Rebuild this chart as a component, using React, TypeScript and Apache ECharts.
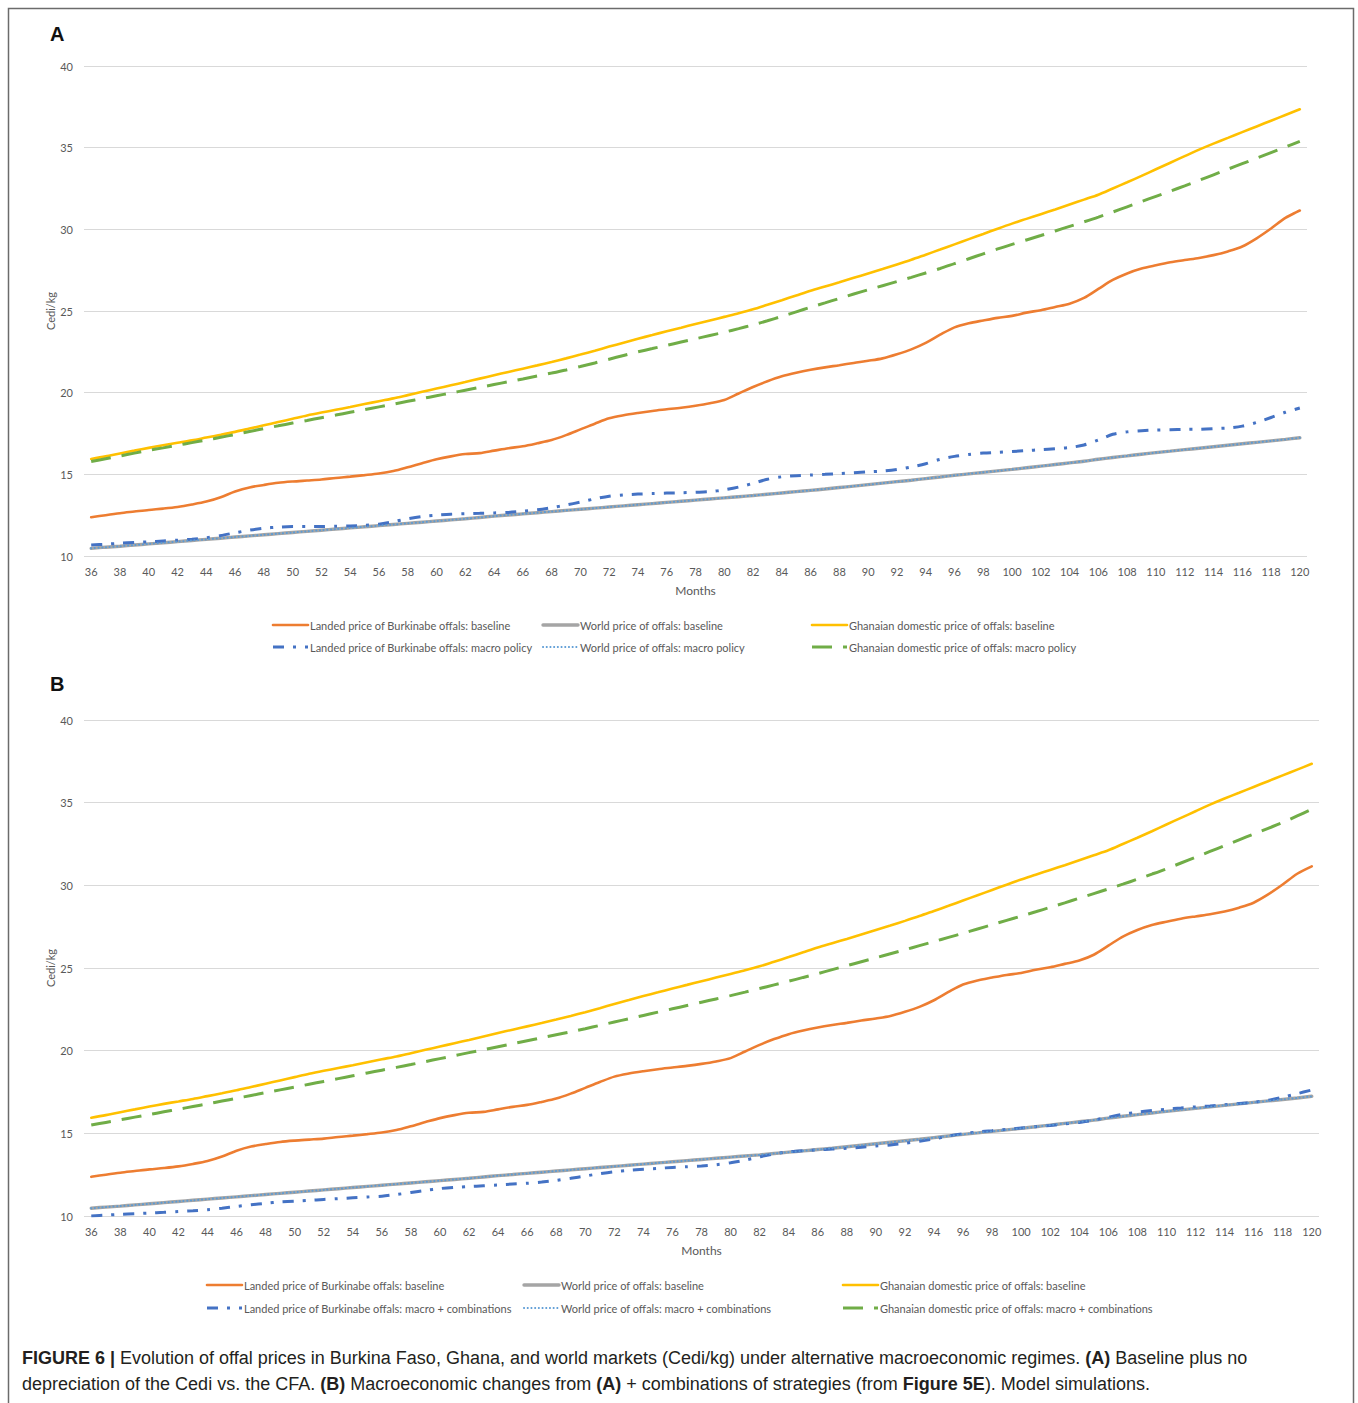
import React, { useEffect, useRef } from "react";
import * as echarts from "echarts";

const months = [
  "36","37","38","39","40","41","42","43","44","45","46","47","48","49","50","51","52","53","54","55",
  "56","57","58","59","60","61","62","63","64","65","66","67","68","69","70","71","72","73","74","75",
  "76","77","78","79","80","81","82","83","84","85","86","87","88","89","90","91","92","93","94","95",
  "96","97","98","99","100","101","102","103","104","105","106","107","108","109","110","111","112","113","114","115",
  "116","117","118","119","120",
];

const landedBaseline = [
  12.37,12.5,12.62,12.72,12.82,12.9,13.0,13.15,13.33,13.6,13.95,14.2,14.35,14.48,14.56,14.62,14.68,14.78,14.86,14.95,
  15.05,15.2,15.43,15.68,15.92,16.1,16.24,16.3,16.45,16.6,16.72,16.9,17.1,17.4,17.75,18.1,18.43,18.62,18.76,18.88,
  18.98,19.08,19.2,19.35,19.55,19.95,20.35,20.7,21.0,21.22,21.4,21.55,21.68,21.82,21.95,22.1,22.35,22.65,23.05,23.55,
  24.0,24.25,24.42,24.58,24.7,24.9,25.05,25.25,25.45,25.8,26.35,26.9,27.3,27.6,27.8,27.98,28.12,28.25,28.42,28.65,
  28.95,29.45,30.05,30.7,31.15,
];

const worldBaseline = [
  10.47,10.54,10.6,10.67,10.74,10.81,10.88,10.95,11.02,11.09,11.16,11.23,11.3,11.37,11.44,11.51,11.58,11.65,11.72,11.79,
  11.86,11.93,12.0,12.07,12.14,12.21,12.28,12.36,12.44,12.51,12.58,12.65,12.72,12.79,12.86,12.93,13.0,13.07,13.14,13.21,
  13.28,13.35,13.42,13.49,13.56,13.63,13.7,13.78,13.86,13.94,14.02,14.1,14.19,14.28,14.37,14.46,14.55,14.64,14.74,14.84,
  14.94,15.03,15.12,15.21,15.3,15.4,15.5,15.6,15.7,15.8,15.92,16.03,16.13,16.23,16.33,16.42,16.51,16.6,16.69,16.78,
  16.87,16.96,17.05,17.14,17.24,
];

const ghanaBaseline = [
  15.94,16.1,16.28,16.45,16.62,16.78,16.93,17.08,17.25,17.42,17.6,17.8,18.0,18.2,18.4,18.6,18.78,18.95,19.12,19.3,
  19.48,19.65,19.85,20.05,20.25,20.45,20.65,20.86,21.07,21.27,21.47,21.67,21.88,22.1,22.33,22.57,22.82,23.06,23.3,23.53,
  23.76,23.98,24.2,24.42,24.64,24.86,25.1,25.38,25.66,25.95,26.24,26.5,26.76,27.03,27.3,27.57,27.85,28.14,28.45,28.76,
  29.08,29.4,29.72,30.04,30.35,30.64,30.93,31.22,31.52,31.82,32.12,32.5,32.88,33.27,33.68,34.08,34.48,34.88,35.25,35.6,
  35.95,36.3,36.65,37.0,37.35,
];

// Panel A: macro policy
const landedMacroA = [
  10.67,10.72,10.78,10.83,10.87,10.92,10.97,11.03,11.12,11.25,11.42,11.58,11.7,11.77,11.8,11.8,11.8,11.82,11.84,11.88,
  11.95,12.1,12.28,12.42,12.5,12.56,12.59,12.61,12.64,12.67,12.74,12.83,12.96,13.12,13.3,13.5,13.66,13.74,13.79,13.82,
  13.85,13.87,13.9,13.94,14.05,14.22,14.45,14.7,14.85,14.92,14.96,15.0,15.05,15.1,15.15,15.2,15.3,15.45,15.65,15.92,
  16.1,16.22,16.3,16.35,16.4,16.45,16.51,16.57,16.64,16.8,17.1,17.45,17.6,17.67,17.71,17.73,17.75,17.76,17.8,17.84,
  17.95,18.18,18.48,18.8,19.06,
];
const worldMacroA = worldBaseline.slice();
const ghanaMacroA = [
  15.78,15.95,16.12,16.3,16.47,16.62,16.78,16.94,17.1,17.27,17.44,17.62,17.8,17.97,18.14,18.3,18.47,18.63,18.8,18.96,
  19.13,19.3,19.47,19.64,19.81,19.98,20.15,20.32,20.5,20.67,20.84,21.02,21.2,21.39,21.6,21.82,22.05,22.28,22.5,22.7,
  22.9,23.1,23.3,23.5,23.7,23.92,24.15,24.4,24.67,24.95,25.23,25.5,25.77,26.04,26.3,26.55,26.8,27.06,27.33,27.6,
  27.9,28.2,28.5,28.8,29.08,29.35,29.62,29.9,30.18,30.46,30.75,31.06,31.38,31.7,32.02,32.34,32.66,33.0,33.34,33.68,
  34.02,34.36,34.7,35.04,35.38,
];

// Panel B: macro + combinations
const landedComboB = [
  10.0,10.05,10.1,10.14,10.18,10.22,10.27,10.32,10.38,10.47,10.58,10.68,10.77,10.85,10.9,10.95,11.0,11.05,11.1,11.15,
  11.2,11.3,11.42,11.55,11.66,11.73,11.78,11.83,11.88,11.93,11.98,12.05,12.15,12.28,12.42,12.56,12.68,12.76,12.83,12.88,
  12.94,12.98,13.03,13.1,13.22,13.38,13.58,13.76,13.88,13.95,14.0,14.05,14.1,14.16,14.23,14.3,14.4,14.52,14.66,14.84,
  14.98,15.08,15.16,15.24,15.32,15.4,15.48,15.57,15.66,15.8,15.98,16.15,16.28,16.38,16.46,16.53,16.6,16.66,16.73,16.8,
  16.88,17.0,17.18,17.4,17.62,
];
const worldComboB = worldBaseline.slice();
const ghanaComboB = [
  15.5,15.66,15.82,15.98,16.14,16.3,16.46,16.62,16.78,16.95,17.12,17.29,17.46,17.63,17.8,17.97,18.14,18.31,18.48,18.65,
  18.82,18.99,19.16,19.34,19.52,19.7,19.88,20.06,20.24,20.42,20.6,20.78,20.96,21.14,21.33,21.53,21.73,21.93,22.13,22.33,
  22.53,22.73,22.93,23.13,23.33,23.54,23.76,23.98,24.2,24.43,24.66,24.9,25.14,25.38,25.62,25.86,26.1,26.35,26.6,26.85,
  27.1,27.36,27.62,27.88,28.14,28.4,28.67,28.94,29.22,29.5,29.78,30.07,30.37,30.68,31.0,31.35,31.7,32.05,32.4,32.75,
  33.1,33.45,33.8,34.2,34.6,
];

const legendA = [
  "Landed price of Burkinabe offals: baseline",
  "World price of offals: baseline",
  "Ghanaian domestic price of offals: baseline",
  "Landed price of Burkinabe offals: macro policy",
  "World price of offals: macro policy",
  "Ghanaian domestic price of offals: macro policy",
];
const legendB = [
  "Landed price of Burkinabe offals: baseline",
  "World price of offals: baseline",
  "Ghanaian domestic price of offals: baseline",
  "Landed price of Burkinabe offals: macro + combinations",
  "World price of offals: macro + combinations",
  "Ghanaian domestic price of offals: macro + combinations",
];

const FONT = "Lato, 'Open Sans', sans-serif";
const CAPFONT = "'Liberation Sans', Arial, sans-serif";
const AX = "#595959";

type Sty = { color: string; width: number; dash: any; cap: string; z: number };
const styles: Sty[] = [
  { color: "#ED7D31", width: 2.6, dash: "solid", cap: "round", z: 3 },
  { color: "#A5A5A5", width: 3.4, dash: "solid", cap: "round", z: 2 },
  { color: "#FFC000", width: 2.6, dash: "solid", cap: "round", z: 3 },
  { color: "#4472C4", width: 3, dash: [11, 9, 3, 9], cap: "butt", z: 4 },
  { color: "#5B9BD5", width: 2, dash: [0.1, 3.6], cap: "round", z: 5 },
  { color: "#70AD47", width: 3, dash: [20, 11], cap: "butt", z: 4 },
];

function mkSeries(datas: number[][], names: string[], idx: number) {
  return datas.map((d, i) => ({
    type: "line",
    name: names[i] + (idx === 1 ? " " : ""),
    data: d,
    xAxisIndex: idx,
    yAxisIndex: idx,
    symbol: "none",
    smooth: 0.3,
    silent: true,
    z: styles[i].z,
    lineStyle: { color: styles[i].color, width: styles[i].width, type: styles[i].dash, cap: styles[i].cap },
  }));
}

function legendGraphics(names: string[], lineX: number[], rowY: number[]) {
  const els: any[] = [];
  names.forEach((n, i) => {
    const col = i % 3;
    const row = Math.floor(i / 3);
    const s = styles[i];
    const y = rowY[row];
    const x0 = lineX[col];
    els.push({
      type: "line",
      shape: { x1: x0, y1: y, x2: x0 + 35, y2: y },
      style: { stroke: s.color, lineWidth: s.width, lineDash: s.dash === "solid" ? null : s.dash, lineCap: s.cap },
      silent: true,
    });
    els.push({
      type: "text",
      x: x0 + 37,
      y: y,
      style: { text: n, fill: AX, font: `11px ${FONT}`, verticalAlign: "middle" },
      silent: true,
    });
  });
  return els;
}

function axes(idx: number) {
  return {
    x: {
      type: "category",
      gridIndex: idx,
      data: months,
      boundaryGap: true,
      axisTick: { show: false },
      axisLine: { show: false },
      axisLabel: { interval: 1, color: AX, fontSize: 11, fontFamily: FONT, margin: 10 },
      name: "Months",
      nameLocation: "middle",
      nameGap: 28,
      nameTextStyle: { color: AX, fontSize: 12, fontFamily: FONT },
    },
    y: {
      type: "value",
      gridIndex: idx,
      min: 10,
      max: 40,
      interval: 5,
      axisLine: { show: false },
      axisTick: { show: false },
      splitLine: { lineStyle: { color: "#D9D9D9", width: 1 } },
      axisLabel: { color: AX, fontSize: 11, fontFamily: FONT, margin: 11 },
    },
  };
}

function yName(cy: number) {
  return {
    type: "text",
    x: 50,
    y: cy,
    rotation: Math.PI / 2,
    style: { text: "Cedi/kg", fill: AX, font: `11px ${FONT}`, align: "center", verticalAlign: "middle" },
    silent: true,
  };
}

export default function App() {
  const ref = useRef<HTMLDivElement>(null);
  useEffect(() => {
    if (!ref.current) return;
    const chart = echarts.init(ref.current, undefined, { renderer: "svg" });
    const a0 = axes(0);
    const a1 = axes(1);
    const seriesA = mkSeries([landedBaseline, worldBaseline, ghanaBaseline, landedMacroA, worldMacroA, ghanaMacroA], legendA, 0);
    const seriesB = mkSeries([landedBaseline, worldBaseline, ghanaBaseline, landedComboB, worldComboB, ghanaComboB], legendB, 1);
    const rich = { b: { fontWeight: "bold", fontSize: 18, fontFamily: CAPFONT, fill: "#231f20" } };
    chart.setOption({
      animation: false,
      backgroundColor: "#ffffff",
      grid: [
        { left: 84, right: 51, top: 66, height: 490 },
        { left: 84, right: 39, top: 720, height: 496 },
      ],
      xAxis: [a0.x, a1.x],
      yAxis: [a0.y, a1.y],
      series: [...seriesA, ...seriesB],
      graphic: [
        {
          type: "rect",
          shape: { x: 8.5, y: 8.5, width: 1345, height: 1450 },
          style: { fill: "none", stroke: "#6b6b6b", lineWidth: 1.5 },
          silent: true,
        },
        {
          type: "text", x: 50, y: 34,
          style: { text: "A", fill: "#111", font: `bold 20px ${CAPFONT}`, verticalAlign: "middle" },
          silent: true,
        },
        {
          type: "text", x: 50, y: 684,
          style: { text: "B", fill: "#111", font: `bold 20px ${CAPFONT}`, verticalAlign: "middle" },
          silent: true,
        },
        yName(311),
        yName(968),
        ...legendGraphics(legendA, [273, 543, 812], [625, 647]),
        ...legendGraphics(legendB, [207, 524, 843], [1285, 1308]),
        {
          type: "text", x: 22, y: 1358,
          style: {
            text: "{b|FIGURE 6 |} Evolution of offal prices in Burkina Faso, Ghana, and world markets (Cedi/kg) under alternative macroeconomic regimes. {b|(A)} Baseline plus no",
            fill: "#231f20",
            font: `18px ${CAPFONT}`,
            verticalAlign: "middle",
            rich,
          },
          silent: true,
        },
        {
          type: "text", x: 22, y: 1384,
          style: {
            text: "depreciation of the Cedi vs. the CFA. {b|(B)} Macroeconomic changes from {b|(A)} + combinations of strategies (from {b|Figure 5E}). Model simulations.",
            fill: "#231f20",
            font: `18px ${CAPFONT}`,
            verticalAlign: "middle",
            rich,
          },
          silent: true,
        },
      ],
    });
    return () => chart.dispose();
  }, []);
  return (
    <div
      ref={ref}
      style={{ position: "absolute", left: 0, top: 0, width: 1358, height: 1403, background: "#fff" }}
    />
  );
}
